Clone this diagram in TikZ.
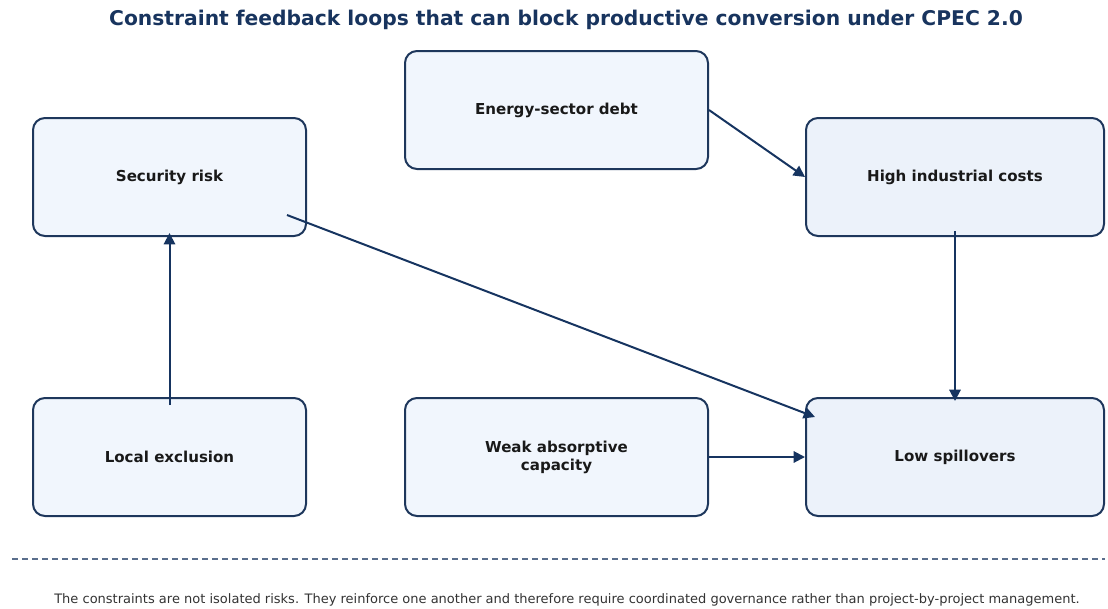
\documentclass[tikz,border=0pt]{standalone}
\usepackage{fontspec}
\setmainfont{DejaVu Sans}
\usetikzlibrary{arrows.meta}

\definecolor{titleblue}{RGB}{24,52,94}
\definecolor{boxline}{RGB}{30,55,92}
\definecolor{arrowblue}{RGB}{22,52,96}
\definecolor{fillleft}{RGB}{241,246,253}
\definecolor{fillright}{RGB}{236,242,250}
\definecolor{rulegray}{RGB}{90,110,140}

\begin{document}
\begin{tikzpicture}[x=0.75pt,y=-0.75pt,>={Triangle[length=8.5pt,width=8.5pt]}]
\useasboundingbox (0,0) rectangle (1108,608);

\node[text=titleblue,font=\bfseries\fontsize{15.2}{17}\selectfont] (title) at (566,20)
    {Constraint feedback loops that can block productive conversion under CPEC 2.0};

\begin{scope}[every node/.style={rectangle,draw=boxline,line width=1.5pt,rounded corners=9pt,
        fill=fillleft,align=center,minimum height=88.5pt,text=black!90,
        font=\bfseries\fontsize{11.3}{13.5}\selectfont}]
    \node[minimum width=204.75pt] (sec) at (169.5,177){Security risk};
    \node[minimum width=227.25pt] (debt) at (556.5,110){Energy-sector debt};
    \node[minimum width=223.5pt,fill=fillright] (cost) at (955,177){High industrial costs};
    \node[minimum width=204.75pt] (excl) at (169.5,457){Local exclusion};
    \node[minimum width=227.25pt] (weak) at (556.5,457){Weak absorptive\\capacity};
    \node[minimum width=223.5pt,fill=fillright] (spill) at (955,457){Low spillovers};
\end{scope}

\begin{scope}[draw=arrowblue,line width=1.5pt]
    \path [->] (debt.east) edge (cost.west);
    \path [->] ([shift={(-20,-22)}]sec.south east) edge ([shift={(10,20)}]spill.north west);
    \path [->] ([shift={(0,-6)}]cost.south) edge ([shift={(0,4)}]spill.north);
    \path [->] ([shift={(0,8)}]excl.north) edge ([shift={(0,-4)}]sec.south);
    \path [->] (weak.east) edge (spill.west);
\end{scope}

\draw[rulegray,line width=0.9pt,dash pattern=on 4.5pt off 3pt] (12,559) -- (1105,559);

\node[text=black!80,font=\fontsize{9.75}{11}\selectfont] (note) at (567,600)
    {The constraints are not isolated risks. They reinforce one another and therefore require coordinated governance rather than project-by-project management.};

\end{tikzpicture}
\end{document}
